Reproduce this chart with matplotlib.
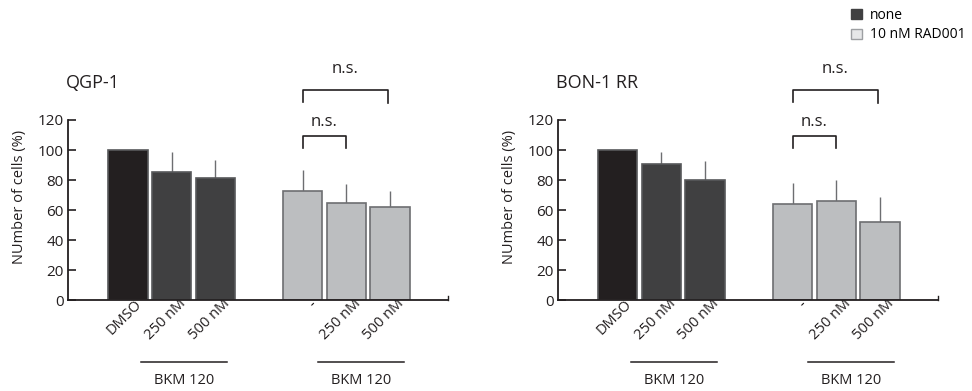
"""Cell number (%) after BKM 120 with/without RAD001 in QGP-1 and BON-1 RR cells."""

import matplotlib.pyplot as plt
import matplotlib.transforms as mtransforms
from matplotlib.patches import Patch

plt.rcParams["font.family"] = ["Open Sans", "DejaVu Sans"]

# bar positions: three untreated, gap, three with RAD001
positions = [0, 1, 2, 4, 5, 6]
tick_labels = ["DMSO", "250 nM", "500 nM", "-", "250 nM", "500 nM"]

qgp_means = [100, 85.5, 81.5, 73, 65, 62]
qgp_err = [0, 13, 11.8, 14, 12.3, 10.8]

bon_means = [100, 91, 80, 64, 66, 52]
bon_err = [0, 7.5, 13, 14, 14, 17]

panels = [
    ("QGP-1", qgp_means, qgp_err),
    ("BON-1 RR", bon_means, bon_err),
]

C_DMSO = "#231f20"
C_NONE = "#404041"
C_RAD = "#bcbec0"
C_EDGE = "#6d6e71"
C_LINE = "#231f20"

bar_colors = [C_DMSO, C_NONE, C_NONE, C_RAD, C_RAD, C_RAD]
edge_colors = ["#58595b", "#58595b", "#58595b", C_EDGE, C_EDGE, C_EDGE]

fig = plt.figure(figsize=(9.72, 3.91), dpi=100)
lefts = [0.070, 0.574]
XMIN, XMAX = -1.37, 7.33


def bracket(ax, x0, x1, y_top, y_leg0, y_leg1, text_y):
    ax.plot([x0, x0, x1, x1], [y_leg0, y_top, y_top, y_leg1],
            color=C_LINE, lw=1.2, clip_on=False)
    ax.text((x0 + x1) / 2, text_y, "n.s.", ha="center", va="center",
            fontsize=12, color=C_LINE, clip_on=False)


for left, (title, means, err) in zip(lefts, panels):
    ax = fig.add_axes([left, 0.2327, 0.391, 0.4604])

    ax.bar(positions, means, width=0.9, color=bar_colors,
           edgecolor=edge_colors, linewidth=1.2, zorder=2)
    # upper error only, no caps
    ax.errorbar(positions, means, yerr=[[0] * len(err), err], fmt="none",
                ecolor=C_EDGE, elinewidth=1.0, capsize=0, zorder=1)

    ax.set_xlim(XMIN, XMAX)
    ax.set_ylim(0, 120)
    ax.set_yticks(range(0, 121, 20))
    ax.tick_params(axis="y", direction="in", length=6, width=1.2,
                   color=C_LINE, labelsize=11, labelcolor=C_LINE, pad=3)
    ax.set_xticks(positions)
    ax.set_xticklabels(tick_labels, rotation=45, ha="right",
                       rotation_mode="anchor", va="center",
                       fontsize=10.5, color=C_LINE)
    ax.tick_params(axis="x", length=0, pad=2)
    offset = mtransforms.ScaledTranslation(12 / 100, 1 / 100, fig.dpi_scale_trans)
    for lbl in ax.get_xticklabels():
        lbl.set_transform(lbl.get_transform() + offset)

    for side in ("top", "right"):
        ax.spines[side].set_visible(False)
    for side in ("left", "bottom"):
        ax.spines[side].set_linewidth(1.3)
        ax.spines[side].set_color(C_LINE)
    # small end tick on the x axis
    ax.plot([XMAX, XMAX], [0, 2.5], color=C_LINE, lw=1.0, clip_on=False)

    ax.set_ylabel("NUmber of cells (%)", fontsize=10.5, color=C_LINE)
    ax.yaxis.set_label_coords(-0.108, 0.57)

    ax.text(-0.005, 1.205, title, transform=ax.transAxes, ha="left",
            va="center", fontsize=13, color=C_LINE)

    # significance brackets
    bracket(ax, 4.0, 5.95, 140, 132, 131.3, 154)
    bracket(ax, 4.0, 5.0, 109.3, 101.3, 101.3, 118.7)

    # group underlines
    for x0, x1 in [(0.3, 2.27), (4.35, 6.33)]:
        ax.plot([x0, x1], [-41.3, -41.3], color=C_LINE, lw=1.1, clip_on=False)
        ax.text((x0 + x1) / 2, -53.5, "BKM 120", ha="center", va="center",
                fontsize=10.5, color=C_LINE, clip_on=False)

handles = [
    Patch(facecolor=C_NONE, edgecolor=C_NONE, label="none"),
    Patch(facecolor="#e6e7e8", edgecolor="#9d9fa2", label="10 nM RAD001"),
]
fig.legend(handles=handles, loc="upper left", bbox_to_anchor=(0.868, 1.0),
           frameon=False, fontsize=10, handlelength=0.75, handleheight=0.75,
           handletextpad=0.6, labelspacing=0.35, borderaxespad=0.15)

fig.savefig("out.png", dpi=100)
